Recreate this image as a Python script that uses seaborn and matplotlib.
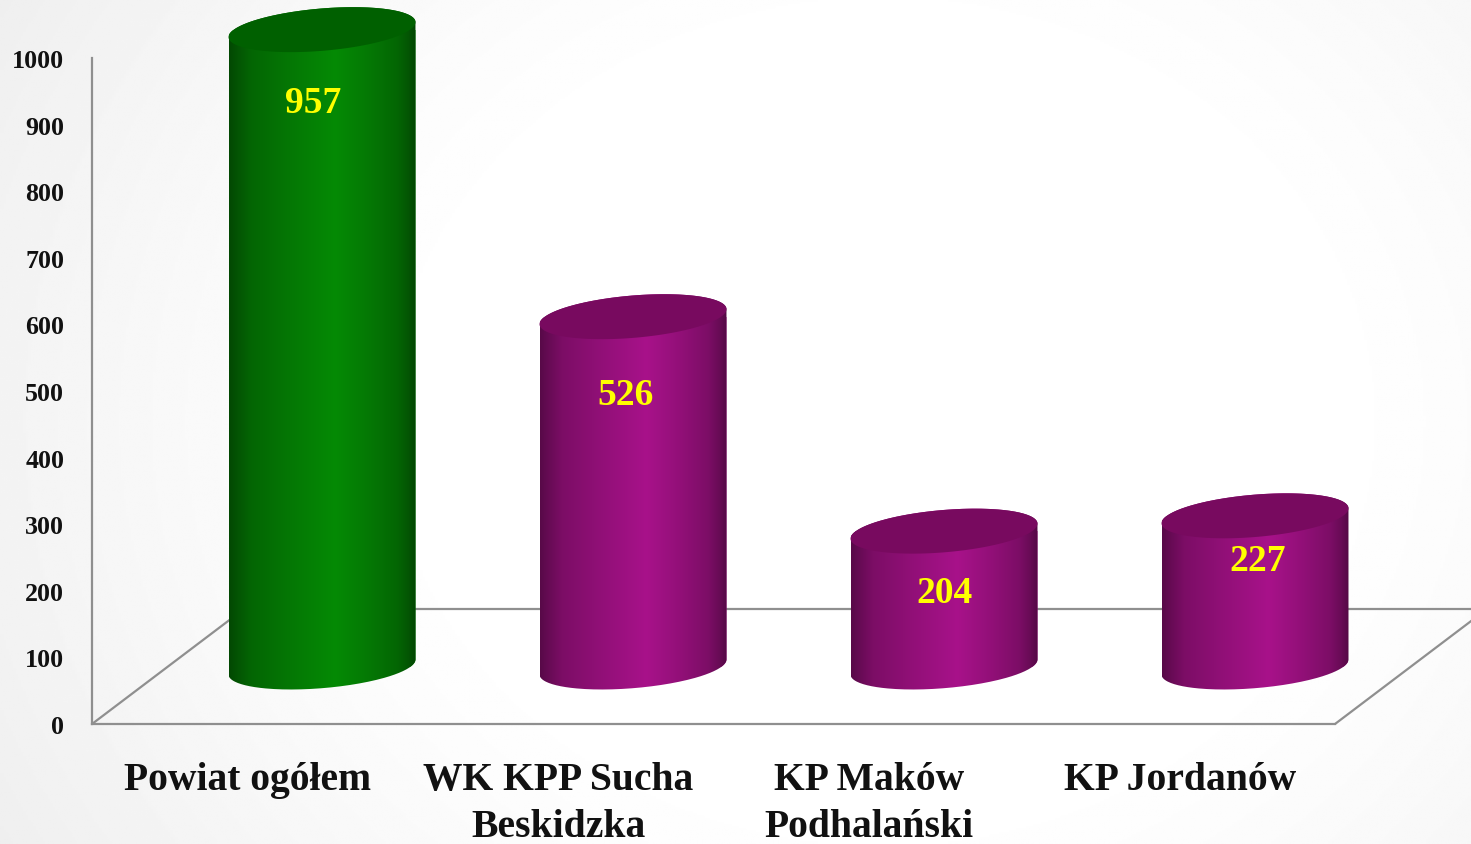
import numpy as np
import pandas as pd
import matplotlib
matplotlib.use("Agg")
import matplotlib.pyplot as plt
from matplotlib.colors import LinearSegmentedColormap, to_rgb
from matplotlib.patches import PathPatch
from matplotlib.path import Path
import seaborn as sns

categories = ["Powiat ogółem", "WK KPP Sucha\nBeskidzka", "KP Maków\nPodhalański", "KP Jordanów"]
values = [957, 526, 204, 227]
y_ticks = [0, 100, 200, 300, 400, 500, 600, 700, 800, 900, 1000]

bar_colors = ["#058a05", "#a8128a", "#a8128a", "#a8128a"]
top_colors = ["#006000", "#780a5f", "#780a5f", "#780a5f"]
label_dx_px = [-9, -7, 1, 3]
label_dy_px = [-72.5, -78, -61.5, -45]

W, H = 1471, 845
FONT = "Liberation Serif"
sns.set_theme(style="white")
plt.rcParams["font.family"] = [FONT, "DejaVu Serif"]
plt.rcParams["font.weight"] = "bold"

fig = plt.figure(figsize=(W / 100, H / 100), dpi=100)


def px_axes(left, right, top, bottom, **kw):
    return fig.add_axes([left / W, 1 - bottom / H, (right - left) / W, (bottom - top) / H], **kw)


# vignette background, stronger on the left as in the reference
bg = fig.add_axes([0, 0, 1, 1], zorder=-2)
yy, xx = np.mgrid[0:1:400j, 0:1:600j]
r = np.clip((np.hypot((xx - 0.6) / 0.6, (yy - 0.5) / 0.9) - 0.5) / 0.7, 0, 1)
bg.imshow(0.999 - 0.07 * r ** 1.3, cmap="gray", vmin=0, vmax=1, aspect="auto", origin="upper")
bg.axis("off")

# frame axes: value axis, floor and category labels
ax = px_axes(92, 1335, 59, 725, zorder=1)
ax.patch.set_visible(False)
ax.set_xlim(-0.5, 3.5)
ax.set_ylim(0, 1000)
ax.set_yticks(y_ticks)
ax.set_xticks(range(len(categories)))
ax.set_xticklabels(categories, fontsize=28.5, linespacing=1.35, color="#111111")
ax.tick_params(axis="x", length=0, pad=26.5)
ax.tick_params(axis="y", length=0, pad=20, labelsize=18.7, labelcolor="#111111")
sns.despine(ax=ax)
LINE = "#8f8f8f"
for s in ("left", "bottom"):
    ax.spines[s].set_color(LINE)
    ax.spines[s].set_linewidth(1.6)
dep_x, dep_y = 152 / 1243, 115 / 666
t = ax.transAxes
ax.plot([0, dep_x], [0, dep_y], transform=t, color=LINE, lw=1.6, clip_on=False)
ax.plot([1, 1 + dep_x], [0, dep_y], transform=t, color=LINE, lw=1.6, clip_on=False)
ax.plot([dep_x, 1 + dep_x], [dep_y, dep_y], transform=t, color=LINE, lw=1.6, clip_on=False)

# bar axes: shifted into the depth of the floor
YMIN = -50
PX = 0.666
base = 668.0
ax2 = px_axes(166.5, 1410.5, base - 1000 * PX, base - YMIN * PX, zorder=2)
ax2.patch.set_visible(False)
df = pd.DataFrame({"category": categories, "value": values})
sns.barplot(data=df, x="category", y="value", hue="category", palette=bar_colors,
            legend=False, width=187 / 311, ax=ax2, saturation=1, linewidth=0)

SHEAR = 7.5 / PX
MINOR = 21.2 / PX


def arc(xc, a, yc, t0, t1):
    s = np.linspace(t0, t1, 120)
    return np.column_stack([xc + a * np.cos(s), yc + SHEAR * np.cos(s) + MINOR * np.sin(s)])


shade = [(0.0, 0.52), (0.04, 0.60), (0.12, 0.74), (0.32, 0.86), (0.57, 1.0), (0.75, 0.87),
         (0.90, 0.74), (0.96, 0.62), (1.0, 0.50)]

for bar, col, top, v, dx, dy in zip(ax2.patches, bar_colors, top_colors, values, label_dx_px, label_dy_px):
    x0 = bar.get_x()
    w = bar.get_width()
    h = bar.get_height()
    xc, a = x0 + w / 2, w / 2
    verts = np.vstack([arc(xc, a, 0, np.pi, 2 * np.pi), arc(xc, a, h, 0, np.pi)])
    body = PathPatch(Path(np.vstack([verts, verts[0]])), facecolor="none", edgecolor="none",
                     transform=ax2.transData)
    ax2.add_patch(body)
    bar.set_clip_path(body)
    rgb = np.array(to_rgb(col))
    cmap = LinearSegmentedColormap.from_list("c", [(p, tuple(rgb * m)) for p, m in shade], N=1024)
    img = ax2.imshow(np.linspace(0, 1, 512)[None, :], cmap=cmap, aspect="auto",
                     extent=[x0, x0 + w, YMIN, 1000], zorder=3, interpolation="bilinear")
    img.set_clip_path(body)
    ell = arc(xc, a, h, 0, 2 * np.pi)
    ax2.fill(ell[:, 0], ell[:, 1], color=top, lw=0, zorder=4)
    ax2.annotate(str(v), xy=(xc, h), xytext=(dx, dy), textcoords="offset pixels",
                 ha="center", va="center", color="#ffff00", fontsize=27, fontweight="bold",
                 zorder=5)

ax2.set_xlim(-0.5, 3.5)
ax2.set_ylim(YMIN, 1000)
ax2.axis("off")

fig.savefig("out.png", dpi=100)
